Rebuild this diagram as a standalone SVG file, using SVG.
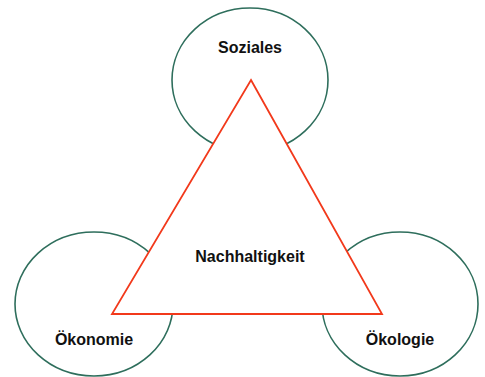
<svg xmlns="http://www.w3.org/2000/svg" width="485" height="377" viewBox="0 0 485 377">
<style>
.c{fill:#fff;stroke:#2E6E5C;stroke-width:1.6}
.t{fill:#fff;stroke:#F2391B;stroke-width:1.8;stroke-linejoin:miter}
.l{font-family:"Liberation Sans",Arial,sans-serif;font-weight:bold;font-size:16px;fill:#111;text-anchor:middle}
</style>
<rect width="485" height="377" fill="#fff"/>
<g id="soziales"><ellipse class="c" cx="250" cy="80" rx="78" ry="72"/><text class="l" x="250" y="53">Soziales</text></g>
<g id="oekonomie"><ellipse class="c" cx="94" cy="304" rx="79" ry="72"/><text class="l" x="94" y="345">Ökonomie</text></g>
<g id="oekologie"><ellipse class="c" cx="400" cy="304" rx="78" ry="72"/><text class="l" x="400" y="345">Ökologie</text></g>
<g id="nachhaltigkeit"><polygon class="t" points="251,80 382,314 112,314"/><text class="l" x="250" y="262">Nachhaltigkeit</text></g>
<g id="connectors"></g>
</svg>
